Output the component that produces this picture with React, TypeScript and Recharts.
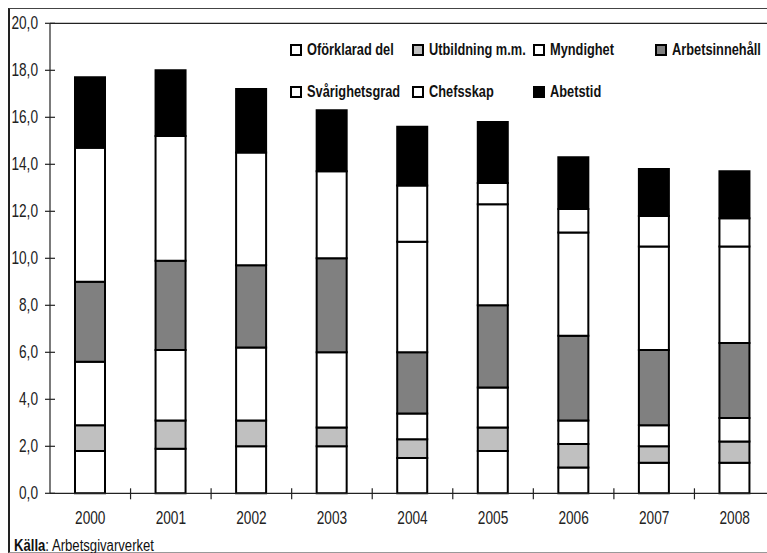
import React from 'react';
import { BarChart, Bar, XAxis, YAxis, ReferenceLine, Legend } from 'recharts';

// Wage-gap components per year (percentage points)
const years = ['2000', '2001', '2002', '2003', '2004', '2005', '2006', '2007', '2008'];
const oforklarad = [1.8, 1.9, 2.0, 2.0, 1.5, 1.8, 1.1, 1.3, 1.3];
const utbildning = [1.1, 1.2, 1.1, 0.8, 0.8, 1.0, 1.0, 0.7, 0.9];
const myndighet = [2.7, 3.0, 3.1, 3.2, 1.1, 1.7, 1.0, 0.9, 1.0];
const arbetsinnehall = [3.4, 3.8, 3.5, 4.0, 2.6, 3.5, 3.6, 3.2, 3.2];
const svarighetsgrad = [5.7, 5.3, 4.8, 3.7, 4.7, 4.3, 4.4, 4.4, 4.1];
const chefsskap = [0, 0, 0, 0, 2.4, 0.9, 1.0, 1.3, 1.2];
const abetstid = [3.0, 2.8, 2.7, 2.6, 2.5, 2.6, 2.2, 2.0, 2.0];
const yTicks = [0, 2, 4, 6, 8, 10, 12, 14, 16, 18, 20];

// Stacking order, bottom to top
const series = [
  { key: 'oforklarad', name: 'Oförklarad del', values: oforklarad, fill: '#ffffff' },
  { key: 'utbildning', name: 'Utbildning m.m.', values: utbildning, fill: '#c0c0c0' },
  { key: 'myndighet', name: 'Myndighet', values: myndighet, fill: '#ffffff' },
  { key: 'arbetsinnehall', name: 'Arbetsinnehåll', values: arbetsinnehall, fill: '#808080' },
  { key: 'svarighetsgrad', name: 'Svårighetsgrad', values: svarighetsgrad, fill: '#ffffff' },
  { key: 'chefsskap', name: 'Chefsskap', values: chefsskap, fill: '#ffffff' },
  { key: 'abetstid', name: 'Abetstid', values: abetstid, fill: '#000000' },
];

const data = years.map((year, i) => {
  const row: Record<string, string | number> = { year };
  series.forEach((s) => {
    row[s.key] = s.values[i];
  });
  return row;
});

// Condensed look: Liberation Sans squeezed horizontally
const FONT = '"Liberation Sans", Arial, sans-serif';
const SQUEEZE = 0.76;
const CHART_W = 775;
const CHART_H = 553;
const PLOT_LEFT = 50;
const CAT_W = (CHART_W - PLOT_LEFT) / years.length;

const fmt = (v: number) => v.toFixed(1).replace('.', ',');

const YTick = (props: any) => {
  const { x, y, payload } = props;
  return (
    <g>
      <line x1={x - 5} x2={x + 5} y1={y} y2={y} stroke="#222" strokeWidth={1.2} />
      <text
        transform={`translate(${x - 12},${y}) scale(${SQUEEZE},1)`}
        textAnchor="end"
        dominantBaseline="central"
        fontFamily={FONT}
        fontSize={18}
        fill="#222"
      >
        {fmt(payload.value)}
      </text>
    </g>
  );
};

const XTick = (props: any) => {
  const { x, y, payload } = props;
  const bx = x + CAT_W / 2;
  return (
    <g>
      <line x1={bx} x2={bx} y1={y - 5} y2={y + 6} stroke="#222" strokeWidth={1.2} />
      <text
        transform={`translate(${x},${y + 25}) scale(${SQUEEZE},1)`}
        textAnchor="middle"
        dominantBaseline="central"
        fontFamily={FONT}
        fontSize={18}
        fill="#222"
      >
        {payload.value}
      </text>
    </g>
  );
};

const LegendGrid = () => (
  <div style={{ position: 'relative', width: CHART_W, height: 110 }}>
    {series.map((s, i) => {
      const col = i % 4;
      const row = Math.floor(i / 4);
      return (
        <div
          key={s.key}
          style={{
            position: 'absolute',
            left: 290 + col * 121.7,
            top: 50 + row * 42.3 - 9,
            height: 18,
            display: 'flex',
            alignItems: 'center',
            whiteSpace: 'nowrap',
          }}
        >
          <span
            style={{
              display: 'inline-block',
              width: 8,
              height: 8,
              border: '2px solid #000',
              background: s.fill,
              marginRight: 5,
            }}
          />
          <span
            style={{
              display: 'inline-block',
              fontFamily: FONT,
              fontWeight: 'bold',
              fontSize: 16,
              color: '#111',
              transform: 'scaleX(0.8)',
              transformOrigin: 'left center',
            }}
          >
            {s.name}
          </span>
        </div>
      );
    })}
  </div>
);

export default function App() {
  return (
    <div style={{ position: 'relative', width: 767, height: 553, overflow: 'hidden', background: '#fff' }}>
      <style>{'body{margin:0;overflow:hidden;}'}</style>
      <div style={{ position: 'absolute', left: 0, top: 0 }}>
        <BarChart
          width={CHART_W}
          height={CHART_H}
          data={data}
          margin={{ top: 23.3, right: 0, bottom: 0, left: 0 }}
        >
          <XAxis
            dataKey="year"
            height={59.7}
            stroke="#222"
            strokeWidth={1.2}
            tickLine={false}
            tickSize={0}
            tickMargin={0}
            tick={<XTick />}
            interval={0}
          />
          <YAxis
            width={PLOT_LEFT}
            domain={[0, 20]}
            ticks={yTicks}
            stroke="#222"
            strokeWidth={1.2}
            tickLine={false}
            tickSize={0}
            tickMargin={0}
            tick={<YTick />}
            interval={0}
          />
          <ReferenceLine y={20} stroke="#222" strokeWidth={1.2} />
          <Legend
            layout="horizontal"
            verticalAlign="middle"
            align="center"
            wrapperStyle={{ position: 'absolute', left: 0, top: 0, width: CHART_W, height: 110 }}
            content={() => <LegendGrid />}
          />
          {series.map((s) => (
            <Bar
              key={s.key}
              dataKey={s.key}
              name={s.name}
              stackId="gap"
              fill={s.fill}
              stroke="#000"
              strokeWidth={2}
              barSize={30}
              isAnimationActive={false}
            />
          ))}
        </BarChart>
      </div>
      {/* outer frame */}
      <div
        style={{
          position: 'absolute',
          left: 8,
          top: 8,
          width: 780,
          height: 543,
          borderLeft: '2px solid #222',
          borderTop: '1px solid #444',
          borderBottom: '1px solid #999',
          pointerEvents: 'none',
        }}
      />
      <div
        style={{
          position: 'absolute',
          left: 14,
          top: 537,
          fontFamily: FONT,
          fontSize: 16,
          color: '#111',
          whiteSpace: 'nowrap',
          transform: 'scaleX(0.82)',
          transformOrigin: 'left center',
        }}
      >
        <b>Källa</b>: Arbetsgivarverket
      </div>
    </div>
  );
}
